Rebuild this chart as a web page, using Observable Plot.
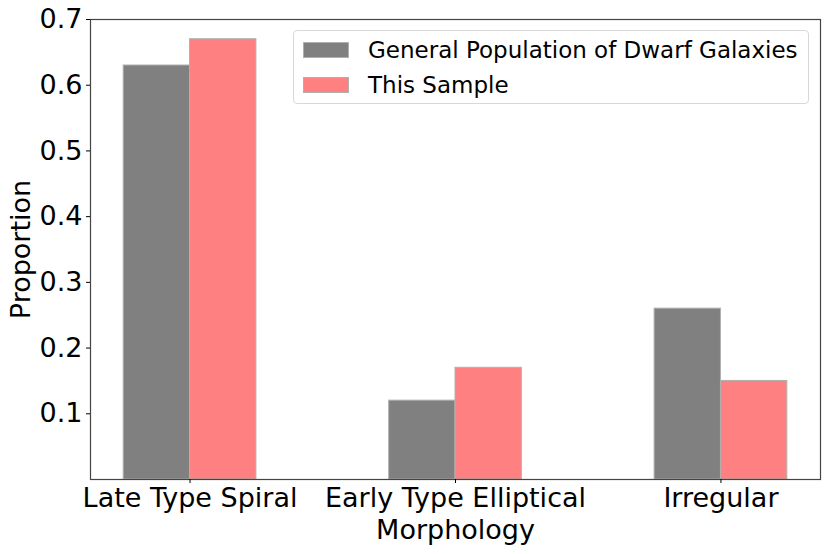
<!DOCTYPE html>
<html><head><meta charset="utf-8">
<script src="https://cdn.jsdelivr.net/npm/d3@7"></script>
<script src="https://cdn.jsdelivr.net/npm/@observablehq/plot@0.6"></script>
<style>
body{margin:0;background:#fff;font-family:"DejaVu Sans",sans-serif;}
#wrap{position:relative;width:830px;height:554px;}
.legend{position:absolute;left:293px;top:30px;width:516px;height:74px;border:1px solid #d8d8d8;border-radius:4px;background:rgba(255,255,255,0.8);box-sizing:border-box;font-size:23px;color:#000;}
.item{position:absolute;left:0;height:20px;}
.sw{position:absolute;left:9px;width:46px;height:16px;box-sizing:border-box;border:1px solid #b0b0b0;}
.lab{position:absolute;left:74px;top:-6px;white-space:nowrap;line-height:28px;}
</style>
</head><body>
<div id="wrap"></div>
<script>
const categories = ["Late Type Spiral", "Early Type Elliptical", "Irregular"];
const seriesNames = ["General Population of Dwarf Galaxies", "This Sample"];
const generalValues = [0.63, 0.12, 0.26];
const sampleValues = [0.67, 0.17, 0.15];
const seriesColors = ["#808080", "#ff8080"];
const yTicks = [0.1, 0.2, 0.3, 0.4, 0.5, 0.6, 0.7];
const xLabel = "Morphology";
const yLabel = "Proportion";

const barWidth = 0.25;
const rows = [];
[generalValues, sampleValues].forEach((vals, s) => {
  vals.forEach((v, i) => rows.push({i, s, series: seriesNames[s], value: v}));
});

const chart = Plot.plot({
  width: 830,
  height: 554,
  marginLeft: 90,
  marginRight: 10,
  marginTop: 19,
  marginBottom: 75,
  style: {fontFamily: "DejaVu Sans, sans-serif", fontSize: "27px", color: "#000", background: "#fff"},
  x: {domain: [-0.375, 2.375]},
  y: {domain: [0, 0.7]},
  color: {domain: seriesNames, range: seriesColors},
  marks: [
    Plot.rectY(rows, {
      x1: d => d.i - barWidth + d.s * barWidth,
      x2: d => d.i + d.s * barWidth,
      y: "value",
      fill: "series",
      stroke: "#b0b0b0",
      strokeWidth: 1
    }),
    Plot.frame({stroke: "#444", strokeWidth: 1.2}),
    Plot.axisY(yTicks, {
      tickSize: 4,
      tickPadding: 4,
      tickFormat: d3.format(".1f"),
      fontSize: 27,
      label: yLabel,
      labelAnchor: "center",
      labelArrow: "none",
      labelOffset: 80
    }),
    Plot.axisX([0, 1, 2], {
      tickSize: 4,
      tickPadding: 4,
      tickFormat: i => categories[i],
      fontSize: 27,
      label: xLabel,
      labelAnchor: "center",
      labelArrow: "none",
      labelOffset: 59
    })
  ]
});

const wrap = document.getElementById("wrap");
wrap.appendChild(chart);

const legend = document.createElement("div");
legend.className = "legend";
seriesNames.forEach((name, s) => {
  const item = document.createElement("div");
  item.className = "item";
  item.style.top = (11 + s * 35) + "px";
  const sw = document.createElement("div");
  sw.className = "sw";
  sw.style.background = seriesColors[s];
  const lab = document.createElement("div");
  lab.className = "lab";
  lab.textContent = name;
  item.appendChild(sw);
  item.appendChild(lab);
  legend.appendChild(item);
});
wrap.appendChild(legend);
</script>
</body></html>
